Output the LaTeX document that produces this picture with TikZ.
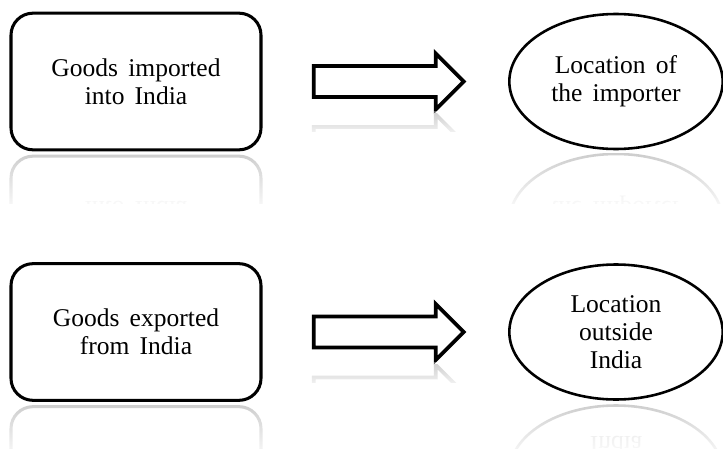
\documentclass[tikz,border=0pt]{standalone}
\usepackage{fontspec}
\setmainfont{Liberation Serif}
\usetikzlibrary{shapes.geometric,shapes.arrows,fadings}

\tikzfading[name=fade in down, top color=transparent!65, bottom color=transparent!0]

\newcommand{\widespace}{\spaceskip=0.4em\relax}

\tikzset{
  txt/.style={font=\fontsize{21.8}{24}\selectfont, align=center,
    execute at begin node=\widespace},
  goods/.style={txt, draw, line width=2.6pt, rounded corners=0.66cm,
    minimum width=7.5cm, minimum height=4.1cm, inner sep=0pt},
  place/.style={txt, draw, ellipse, line width=2.2pt,
    minimum width=6.4cm, minimum height=4.05cm, inner sep=0pt},
  bigarrow/.style={draw, single arrow, line width=3.2pt, single arrow tip angle=90,
    single arrow head extend=0.375cm, inner xsep=0pt, inner ysep=0.41cm,
    minimum height=4.5cm},
  ghost/.style={draw=gray!60, text=gray!40},
  mirrorat/.style={shift={(0,2*#1)}, yscale=-1, transform shape}
}

\begin{document}
\begin{tikzpicture}[x=0.03cm, y=-0.03cm]
\useasboundingbox (0,0) rectangle (723,449);

\def\xa{136}
\def\xb{381}
\def\xc{616}

\def\ya{81.5}
\def\yb{332}

% first row
\node[goods] (imp) at (\xa, \ya) {Goods imported\\into India};
\node[bigarrow] (arra) at (\xb, \ya) {};
\node[place] (loca) at (\xc, \ya) {Location of\\the importer};

% second row
\node[goods] (exp) at (\xa, \yb) {Goods exported\\from India};
\node[bigarrow] (arrb) at (\xb, \yb) {};
\node[place] (locb) at (\xc, \yb) {Location\\outside\\India};

% reflections, first row
\begin{scope}
\clip (0,153) rectangle (723,203);
\begin{scope}[mirrorat=153]
\node[goods, ghost] (impr) at (\xa, \ya) {Goods imported\\into India};
\end{scope}
\begin{scope}[mirrorat=151.5]
\node[place, ghost] (locar) at (\xc, \ya) {Location of\\the importer};
\end{scope}
\end{scope}
\fill[white, path fading=fade in down] (0,152.5) rectangle (723,215);

\begin{scope}
\clip (300,113) rectangle (480,131);
\begin{scope}[mirrorat=112]
\node[bigarrow, ghost] (arrar) at (\xb, \ya) {};
\end{scope}
\end{scope}
\fill[white, path fading=fade in down] (300,111) rectangle (480,140);

% reflections, second row
\begin{scope}
\clip (0,403.5) rectangle (723,449);
\begin{scope}[mirrorat=403.5]
\node[goods, ghost] (expr) at (\xa, \yb) {Goods exported\\from India};
\end{scope}
\begin{scope}[mirrorat=402.5]
\node[place, ghost] (locbr) at (\xc, \yb) {Location\\outside\\India};
\end{scope}
\end{scope}
\fill[white, path fading=fade in down] (0,403) rectangle (723,462);

\begin{scope}
\clip (300,364) rectangle (480,382);
\begin{scope}[mirrorat=362.5]
\node[bigarrow, ghost] (arrbr) at (\xb, \yb) {};
\end{scope}
\end{scope}
\fill[white, path fading=fade in down] (300,362) rectangle (480,391);

\end{tikzpicture}
\end{document}
